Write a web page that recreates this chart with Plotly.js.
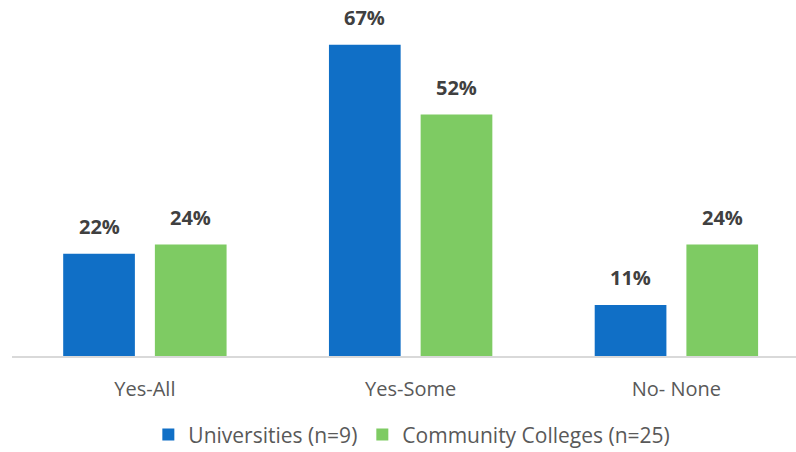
<!DOCTYPE html>
<html>
<head>
<meta charset="utf-8">
<script src="https://cdn.plot.ly/plotly-3.0.1.min.js"></script>
<style>html,body{margin:0;padding:0;background:#fff;overflow:hidden}</style>
</head>
<body>
<div id="chart" style="width:796px;height:452px"></div>
<script>
const categories = ["Yes-All", "Yes-Some", "No- None"];
const seriesNames = ["Universities (n=9)", "Community Colleges (n=25)"];
const universities = [22, 67, 11];
const communityColleges = [24, 52, 24];
const colors = ["#106FC6", "#7ECB63"];

const seriesValues = [universities, communityColleges];
const traces = seriesValues.map((vals, i) => ({
  type: "bar",
  name: seriesNames[i],
  x: categories,
  y: vals,
  marker: {color: colors[i]},
  hoverinfo: "skip"
}));

const groupOffset = 0.1726;
const annotations = [];
seriesValues.forEach((vals, i) => {
  vals.forEach((v, j) => {
    annotations.push({
      x: j + (i === 0 ? -groupOffset : groupOffset),
      y: v,
      xref: "x", yref: "y",
      text: v + "%",
      showarrow: false,
      yanchor: "bottom",
      yshift: 12,
      font: {family: "Open Sans", size: 20, color: "#404040", weight: "bold"}
    });
  });
});

const layout = {
  width: 796, height: 452,
  margin: {l: 12, r: 0, t: 30, b: 96, autoexpand: false},
  paper_bgcolor: "#fff", plot_bgcolor: "#fff",
  barmode: "group",
  bargap: 0.31,
  bargroupgap: 0.218,
  showlegend: true,
  legend: {
    orientation: "h",
    x: 0.51, xanchor: "center",
    y: -0.305, yanchor: "bottom",
    font: {family: "Open Sans", size: 21, color: "#595959"},
    itemclick: false
  },
  xaxis: {
    type: "category",
    range: [-0.5, 2.45],
    showline: true, linecolor: "#D9D9D9", linewidth: 1.5,
    ticks: "", ticklabelstandoff: 14,
    tickfont: {family: "Open Sans", size: 20, color: "#595959"},
    showgrid: false, zeroline: false, fixedrange: true, automargin: false
  },
  yaxis: {
    range: [0, 70.2],
    visible: false, showgrid: false, zeroline: false, fixedrange: true, automargin: false
  },
  annotations: annotations
};

Plotly.newPlot("chart", traces, layout, {displayModeBar: false, staticPlot: true});
</script>
</body>
</html>
